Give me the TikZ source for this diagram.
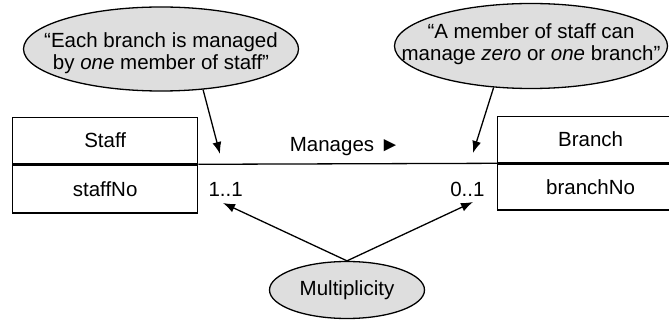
\documentclass[tikz,border=0pt]{standalone}
\usepackage{fontspec}
\setmainfont{Liberation Sans}
\usetikzlibrary{arrows.meta,shapes.geometric}
\begin{document}
\begin{tikzpicture}[x=1pt,y=-1pt,
  every node/.style={font=\fontsize{20.5}{22.5}\selectfont},
  cls/.style={draw,line width=1.3pt,rectangle,minimum width=185pt,minimum height=46pt,inner sep=0pt},
  note/.style={draw,line width=1.3pt,ellipse,fill=black!13,inner sep=0pt},
  notetext/.style={align=center,inner sep=0pt},
  ptr/.style={line width=1.3pt,-{Latex[length=12pt,width=9pt]}},
  assoc/.style={line width=1.3pt}]
\useasboundingbox (0,0) rectangle (669,320);
\clip (0,0) rectangle (669,320);

% classes
\node[cls,anchor=north west] (staff) at (12,117) {Staff};
\node[cls,anchor=north,minimum height=48pt] (staffno) at (staff.south) {staffNo};
\node[cls,anchor=north west,minimum width=186pt] (branch) at (497,116) {Branch};
\node[cls,anchor=north,minimum width=186pt] (branchno) at (branch.south) {branchNo};

% association
\draw[assoc] (staff.south east) -- (branch.south west);
\node (rel) at (345,147) {Manages ►};
\node[anchor=west] (mlo) at (205,189) {1..1};
\node[anchor=east] (mhi) at (488,189) {0..1};

% annotations
\node[note,minimum width=275pt,minimum height=84pt] (note1) at (161,49) {};
\node[notetext] (note1txt) at (161,53)
  {“Each branch is managed\\by \textit{one} member of staff”};
\node[note,minimum width=273pt,minimum height=85pt] (note2) at (531,46) {};
\node[notetext] (note2txt) at (531,44)
  {“A member of staff can\\manage \textit{zero} or \textit{one} branch”};
\node[note,minimum width=155pt,minimum height=57pt] (mult) at (347,290) {Multiplicity};

\coordinate (t1) at (220,154);
\coordinate (t2) at (473,153);
\coordinate (t3) at (223,203);
\coordinate (t4) at (473,202);

\draw[ptr] (note1.-44) -- (t1);
\draw[ptr] (note2.-132) -- (t2);
\draw[ptr] (mult.north) -- (t3);
\draw[ptr] (mult.north) -- (t4);
\end{tikzpicture}
\end{document}
